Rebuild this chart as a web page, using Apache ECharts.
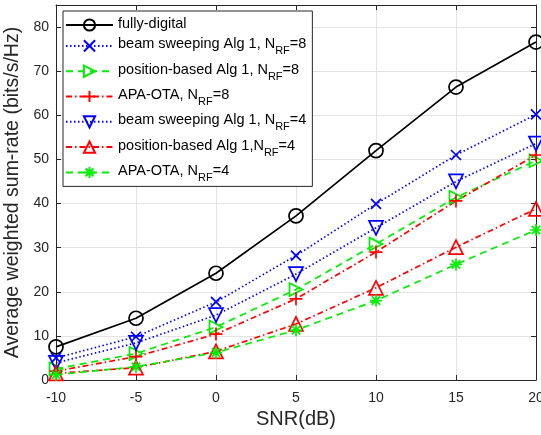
<!DOCTYPE html>
<html>
<head>
<meta charset="utf-8">
<script src="https://cdn.jsdelivr.net/npm/echarts@6/dist/echarts.min.js"></script>
<style>
  html, body { margin: 0; padding: 0; background: #fff; }
  #main { width: 541px; height: 435px; }
</style>
</head>
<body>
<div id="main"></div>
<script>
// snr values (x axis)
var snr = [-10, -5, 0, 5, 10, 15, 20];

var fullyDigital = [7.5, 14, 24.2, 37.2, 52, 66.4, 76.6];
var beamSweep8 = [5, 9.8, 17.7, 28.2, 39.9, 51, 60.2];
var posBased8 = [2.5, 6, 12, 20.5, 30.8, 41.4, 49.7];
var apaOta8 = [2, 5.3, 10.4, 18.4, 29, 40.6, 51];
var beamSweep4 = [3.9, 8.4, 14.7, 24, 34.5, 45, 53.6];
var posBased4 = [1.5, 2.8, 6.5, 12.7, 20.9, 30.1, 38.8];
var apaOta4 = [1.2, 3, 6.2, 11.3, 18, 26.2, 34];

var yTicks = [0, 10, 20, 30, 40, 50, 60, 70, 80];
var xTicks = [-10, -5, 0, 5, 10, 15, 20];

var names = [
  'fully-digital',
  'beam sweeping Alg 1, NRF=8',
  'position-based Alg 1, NRF=8',
  'APA-OTA, NRF=8',
  'beam sweeping Alg 1, NRF=4',
  'position-based Alg 1,NRF=4',
  'APA-OTA, NRF=4'
];

var FONT = 'Liberation Sans, Arial, Helvetica, sans-serif';

// marker shapes (stroked paths)
var symX = 'path://M0,0 L10,10 M10,0 L0,10';
var symPlus = 'path://M5,0 L5,10 M0,5 L10,5';
var symStar = 'path://M5,0 L5,10 M0,5 L10,5 M1.5,1.5 L8.5,8.5 M8.5,1.5 L1.5,8.5';
var symUp = 'path://M5,0 L10,9 L0,9 Z';
var symDown = 'path://M0,0 L10,0 L5,9 Z';
var symRight = 'path://M0,0 L9,5 L0,10 Z';

function mk(name, data, color, type, symbol, size) {
  return {
    name: name,
    type: 'line',
    data: data.map(function (v, i) { return [snr[i], v]; }),
    symbol: symbol,
    symbolSize: size,
    showAllSymbol: true,
    color: color,
    lineStyle: { color: color, width: 1.7, type: type },
    itemStyle: { color: 'rgba(0,0,0,0)', borderColor: color, borderWidth: 1.7 },
    emphasis: { disabled: true },
    animation: false
  };
}

var series = [
  mk(names[0], fullyDigital, '#000000', 'solid', 'circle', 14),
  mk(names[1], beamSweep8, '#0000ff', [1.5, 2.5], symX, 10),
  mk(names[2], posBased8, '#00ee00', [7, 5], symRight, 13),
  mk(names[3], apaOta8, '#ff0000', [6, 3, 1.5, 3], symPlus, 13),
  mk(names[4], beamSweep4, '#0000ff', [1.5, 2.5], symDown, 14),
  mk(names[5], posBased4, '#ff0000', [6, 3, 1.5, 3], symUp, 14),
  mk(names[6], apaOta4, '#00ee00', [7, 5], symStar, 12)
];

function legendFmt(name) {
  var i = name.indexOf('NRF');
  if (i < 0) return '{t|' + name + '}';
  return '{t|' + name.slice(0, i) + 'N}{s|RF}{t|' + name.slice(i + 3) + '}';
}

var chart = echarts.init(document.getElementById('main'), null, { renderer: 'canvas' });
chart.setOption({
  animation: false,
  backgroundColor: '#fff',
  grid: { left: 56, right: 5, top: 5, bottom: 55, containLabel: false, outerBoundsMode: 'none' },
  legend: {
    orient: 'vertical',
    left: 63,
    top: 11,
    data: names,
    itemWidth: 47,
    itemHeight: 14,
    itemGap: 5.3,
    padding: [5, 6, 3, 2],
    backgroundColor: '#fff',
    borderColor: '#262626',
    borderWidth: 1,
    borderRadius: 0,
    formatter: legendFmt,
    textStyle: {
      rich: {
        t: { fontFamily: FONT, fontSize: 14.5, color: '#000', lineHeight: 18, verticalAlign: 'top' },
        s: { fontFamily: FONT, fontSize: 11, color: '#000', lineHeight: 18, verticalAlign: 'top', padding: [9, 0, 0, 0] }
      }
    },
    selectedMode: false
  },
  xAxis: [{
    type: 'value',
    min: -10, max: 20, interval: 5,
    name: 'SNR(dB)',
    nameLocation: 'middle',
    nameGap: 29,
    nameTextStyle: { fontFamily: FONT, fontSize: 20, color: '#262626' },
    axisLine: { show: true, onZero: false, lineStyle: { color: '#262626', width: 1 } },
    axisTick: { show: true, inside: true, length: 5, lineStyle: { color: '#262626' } },
    axisLabel: { fontFamily: FONT, fontSize: 14, color: '#262626', margin: 11 },
    splitLine: { show: true, lineStyle: { color: '#e3e3e3', width: 1 } }
  }, {
    type: 'value', position: 'top',
    min: -10, max: 20, interval: 5,
    axisLine: { show: true, onZero: false, lineStyle: { color: '#262626', width: 1 } },
    axisTick: { show: true, inside: true, length: 5, lineStyle: { color: '#262626' } },
    axisLabel: { show: false },
    splitLine: { show: false }
  }],
  yAxis: [{
    type: 'value',
    min: 0, max: 85, interval: 10,
    name: 'Average weighted sum-rate (bits/s/Hz)',
    nameLocation: 'middle',
    nameGap: 27,
    nameTextStyle: { fontFamily: FONT, fontSize: 19.5, color: '#262626' },
    axisLine: { show: true, onZero: false, lineStyle: { color: '#262626', width: 1 } },
    axisTick: { show: true, inside: true, length: 5, lineStyle: { color: '#262626' } },
    axisLabel: {
      fontFamily: FONT, fontSize: 14, color: '#262626', margin: 7,
      formatter: function (v) { return yTicks.indexOf(v) >= 0 ? String(v) : ''; }
    },
    splitLine: { show: true, lineStyle: { color: '#e3e3e3', width: 1 } }
  }, {
    type: 'value', position: 'right',
    min: 0, max: 85, interval: 10,
    axisLine: { show: true, onZero: false, lineStyle: { color: '#262626', width: 1 } },
    axisTick: { show: true, inside: true, length: 5, lineStyle: { color: '#262626' } },
    axisLabel: { show: false },
    splitLine: { show: false }
  }],
  series: series
});
</script>
</body>
</html>
